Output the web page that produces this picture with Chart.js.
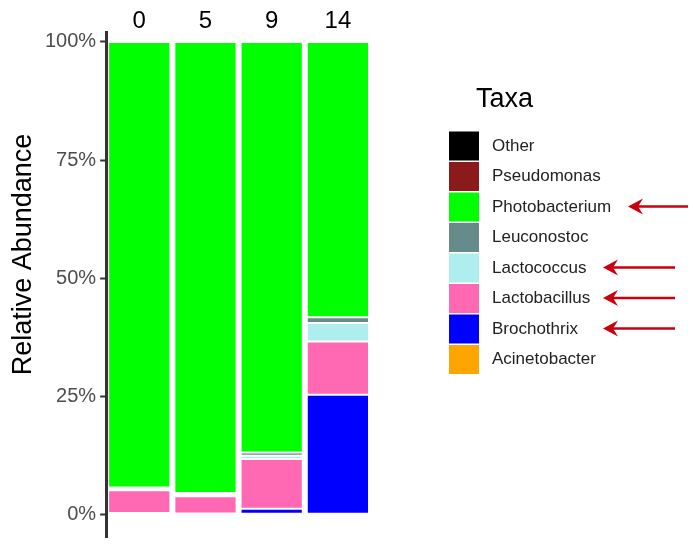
<!DOCTYPE html>
<html lang="en">
<head>
    <meta charset="UTF-8">
    <title>Relative Abundance by Day</title>
    <script src="https://cdn.jsdelivr.net/npm/chart.js"></script>
    <style>
        body {
            margin: 0;
            background: #fff;
            font-family: 'Liberation Sans', Arial, sans-serif;
        }
        .chart-container {
            width: 689px;
            height: 545px;
            position: relative;
        }
    </style>
</head>
<body>
    <div class="chart-container">
        <canvas id="barChart"></canvas>
    </div>

    <script>
        // days (facets) and taxa, stack order bottom -> top
        const days = ["0", "5", "9", "14"];
        const taxa = ["Acinetobacter", "Brochothrix", "Lactobacillus", "Lactococcus",
                      "Leuconostoc", "Photobacterium", "Pseudomonas", "Other"];
        const taxaColors = ["#FFA500", "#0000FF", "#FF69B4", "#AEEEEE",
                            "#668B8B", "#00FF00", "#8B1A1A", "#000000"];

        // relative abundance (%) per day
        const acinetobacter  = [0, 0, 0, 0];
        const brochothrix    = [0.3, 0.2, 1.2, 25.3];
        const lactobacillus  = [4.8, 3.6, 10.5, 11.3];
        const lactococcus    = [0.3, 0.3, 0.7, 3.9];
        const leuconostoc    = [0.3, 0.4, 0.7, 1.2];
        const photobacterium = [94.3, 95.5, 86.9, 58.3];
        const pseudomonas    = [0, 0, 0, 0];
        const other          = [0, 0, 0, 0];

        const yTicks = [0, 25, 50, 75, 100];
        const highlighted = ["Photobacterium", "Lactococcus", "Lactobacillus", "Brochothrix"];

        const seriesValues = [acinetobacter, brochothrix, lactobacillus, lactococcus,
                              leuconostoc, photobacterium, pseudomonas, other];

        const datasets = taxa.map((name, i) => ({
            label: name,
            data: seriesValues[i],
            backgroundColor: taxaColors[i],
            borderColor: '#ffffff',
            borderWidth: 1,
            borderSkipped: false,
            barPercentage: 1,
            categoryPercentage: 0.94
        }));

        // legend on the right, drawn from the datasets (top of stack first), plus arrows
        const taxaLegend = {
            id: 'taxaLegend',
            afterDraw(chart) {
                const ctx = chart.ctx;
                ctx.save();
                ctx.fillStyle = '#000';
                ctx.font = "27px 'Liberation Sans', Arial, sans-serif";
                ctx.textBaseline = 'alphabetic';
                ctx.textAlign = 'left';
                ctx.fillText('Taxa', 476, 107);

                const items = chart.data.datasets.slice().reverse();
                ctx.font = "17px 'Liberation Sans', Arial, sans-serif";
                ctx.textBaseline = 'middle';
                items.forEach((ds, i) => {
                    const cy = 146 + i * 30.5;
                    ctx.fillStyle = ds.backgroundColor;
                    ctx.fillRect(449, cy - 14.5, 30, 29);
                    ctx.fillStyle = '#222';
                    ctx.fillText(ds.label, 492, cy);

                    if (highlighted.includes(ds.label)) {
                        const tip = ds.label === 'Photobacterium' ? 628 : 603;
                        const end = ds.label === 'Photobacterium' ? 688 : 675;
                        const y = cy - 0.5;
                        ctx.strokeStyle = '#C8000F';
                        ctx.fillStyle = '#C8000F';
                        ctx.lineWidth = 2.5;
                        ctx.beginPath();
                        ctx.moveTo(end, y);
                        ctx.lineTo(tip + 8, y);
                        ctx.stroke();
                        ctx.beginPath();
                        ctx.moveTo(tip, y);
                        ctx.lineTo(tip + 15, y - 8);
                        ctx.lineTo(tip + 10, y);
                        ctx.lineTo(tip + 15, y + 8);
                        ctx.closePath();
                        ctx.fill();
                    }
                });
                ctx.restore();
            }
        };

        new Chart(document.getElementById('barChart'), {
            type: 'bar',
            data: { labels: days, datasets },
            options: {
                responsive: true,
                maintainAspectRatio: false,
                animation: false,
                layout: { padding: { top: 10, left: 6, right: 318, bottom: 0 } },
                plugins: {
                    legend: { display: false },
                    tooltip: { enabled: false }
                },
                scales: {
                    x: {
                        position: 'top',
                        stacked: true,
                        grid: { display: false, drawTicks: false },
                        border: { display: false },
                        ticks: {
                            color: '#000',
                            padding: -1,
                            font: { family: "'Liberation Sans', Arial, sans-serif", size: 24, lineHeight: 1 }
                        }
                    },
                    y: {
                        stacked: true,
                        min: -4.8,
                        max: 102.1,
                        afterBuildTicks: scale => {
                            scale.ticks = yTicks.map(v => ({ value: v }));
                        },
                        grid: {
                            drawOnChartArea: false,
                            drawTicks: true,
                            tickLength: 6,
                            tickWidth: 2,
                            color: '#333'
                        },
                        border: { display: true, color: '#333', width: 3 },
                        ticks: {
                            color: '#4d4d4d',
                            padding: 4,
                            font: { family: "'Liberation Sans', Arial, sans-serif", size: 20, lineHeight: 0.4 },
                            callback: v => v + '%'
                        },
                        title: {
                            display: true,
                            // leading spaces lift the centred label a little, as in the original
                            text: '        Relative Abundance',
                            color: '#000',
                            padding: 4,
                            font: { family: "'Liberation Sans', Arial, sans-serif", size: 27, lineHeight: 1 }
                        }
                    }
                }
            },
            plugins: [taxaLegend]
        });
    </script>
</body>
</html>
